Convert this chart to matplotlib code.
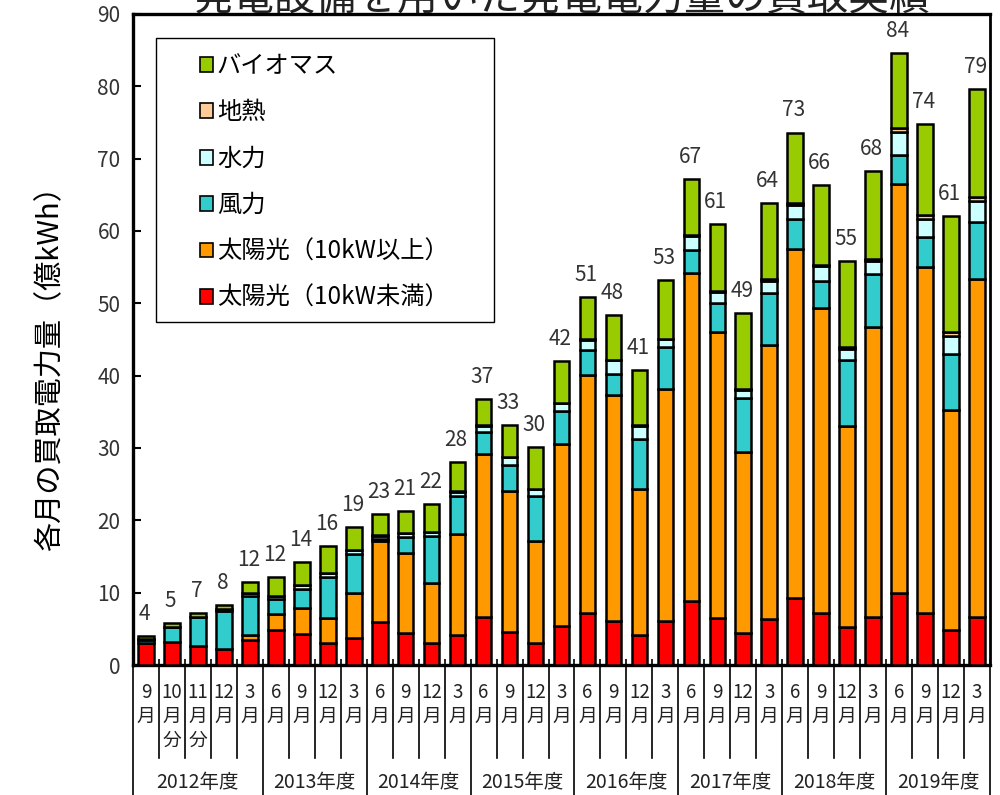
import matplotlib
matplotlib.use("Agg")
import matplotlib.pyplot as plt
import matplotlib.transforms as mtransforms
from matplotlib.patches import Patch, Rectangle
import numpy as np

plt.rcParams['font.family'] = ['Noto Sans CJK JP', 'DejaVu Sans']

# ── data (億kWh) ─────────────────────────────────────────────────
month_num = ['9', '10', '11', '12', '3',
             '6', '9', '12', '3', '6', '9', '12', '3', '6', '9', '12', '3',
             '6', '9', '12', '3', '6', '9', '12', '3', '6', '9', '12', '3',
             '6', '9', '12', '3']
month_note = ['', '分', '分', '', ''] + [''] * 28
years = ['2012年度', '2013年度', '2014年度', '2015年度',
         '2016年度', '2017年度', '2018年度', '2019年度']
year_counts = [5, 4, 4, 4, 4, 4, 4, 4]

solar_small = [3.1, 3.2, 2.6, 2.2, 3.5, 4.8, 4.25, 3.0, 3.8,
               5.9, 4.4, 3.0, 4.15, 6.7, 4.6, 3.0, 5.4,
               7.15, 6.1, 4.15, 6.1, 8.9, 6.55, 4.4, 6.3,
               9.2, 7.2, 5.2, 6.6, 10.0, 7.2, 4.8, 6.6]
solar_large = [0, 0, 0, 0, 0.6, 2.2, 3.6, 3.45, 6.1,
               11.3, 11.1, 8.4, 14.0, 22.5, 19.4, 14.2, 25.1,
               33.0, 31.2, 20.15, 32.1, 45.35, 39.45, 25.1, 38.0,
               48.3, 42.2, 27.8, 40.1, 56.45, 47.8, 30.5, 46.8]
wind = [0.4, 2.0, 4.0, 5.3, 5.4, 2.1, 2.6, 5.75, 5.5,
        0.2, 2.2, 6.5, 5.2, 3.0, 3.7, 6.1, 4.6,
        3.4, 2.9, 7.0, 5.7, 3.05, 4.0, 7.4, 7.1,
        4.1, 3.7, 9.1, 7.4, 4.05, 4.2, 7.7, 7.8]
hydro = [0.1, 0.1, 0.1, 0.2, 0.4, 0.5, 0.6, 0.5, 0.5,
         0.5, 0.5, 0.5, 0.6, 0.9, 1.0, 1.0, 1.1,
         1.4, 1.9, 1.8, 1.1, 2.0, 1.5, 1.1, 1.7,
         2.0, 2.0, 1.6, 1.8, 3.2, 2.5, 2.5, 3.0]
geothermal = [0, 0, 0, 0, 0, 0, 0, 0, 0,
              0.05, 0.05, 0.05, 0.05, 0.05, 0.05, 0.05, 0.05,
              0.05, 0.05, 0.05, 0.05, 0.2, 0.2, 0.2, 0.2,
              0.2, 0.2, 0.2, 0.2, 0.5, 0.5, 0.5, 0.5]
biomass = [0.4, 0.5, 0.5, 0.6, 1.6, 2.6, 3.15, 3.7, 3.2,
           2.95, 3.05, 3.75, 4.0, 3.65, 4.45, 5.8, 5.75,
           5.9, 6.25, 7.65, 8.15, 7.7, 9.2, 10.5, 10.6,
           9.8, 11.0, 11.9, 12.2, 10.4, 12.6, 16.0, 14.9]
total_labels = [4, 5, 7, 8, 12, 12, 14, 16, 19, 23, 21, 22, 28, 37, 33, 30, 42,
                51, 48, 41, 53, 67, 61, 49, 64, 73, 66, 55, 68, 84, 74, 61, 79]

series = [
    ('太陽光（10kW未満）', solar_small, '#FF0000'),
    ('太陽光（10kW以上）', solar_large, '#FF9900'),
    ('風力', wind, '#33CCCC'),
    ('水力', hydro, '#CCFFFF'),
    ('地熱', geothermal, '#FFCC99'),
    ('バイオマス', biomass, '#99CC00'),
]

# ── figure ───────────────────────────────────────────────────────
fig = plt.figure(figsize=(10, 7.95), dpi=100)
ax = fig.add_axes([0.133, 0.1635, 0.857, 0.8190])

x = np.arange(len(month_num))
bottom = np.zeros(len(x))
for name, vals, col in series:
    vals = np.array(vals, dtype=float)
    ax.bar(x, vals, width=0.6, bottom=bottom, color=col,
           edgecolor='black', linewidth=1.8, zorder=3)
    bottom += vals

for xi, top, lab in zip(x, bottom, total_labels):
    ax.annotate(str(lab), (xi, top), xytext=(-1, 8), textcoords='offset points',
                ha='center', va='bottom', fontsize=15, color='#333333')

ax.set_xlim(-0.5, len(x) - 0.5)
ax.set_ylim(0, 90)
ax.set_yticks(np.arange(0, 91, 10))
ax.tick_params(axis='y', direction='in', length=6, width=1.5, labelsize=15,
               labelcolor='#333333', pad=9)
ax.set_xticks(np.arange(-0.5, len(x), 1.0))
ax.tick_params(axis='x', direction='in', length=4, width=1.2, labelbottom=False)
for side in ['top', 'left', 'bottom']:
    ax.spines[side].set_linewidth(2.4)
ax.spines['right'].set_linewidth(2.0)

ax.set_ylabel('各月の買取電力量（億kWh）', fontsize=21)
ax.yaxis.set_label_coords(-0.079, 0.467)

# ── category table under the axis ────────────────────────────────
trans = mtransforms.blended_transform_factory(ax.transData, ax.transAxes)
year_edges = np.cumsum([0] + year_counts) - 0.5
for b in np.arange(-0.5, len(x), 1.0):
    full = np.any(np.isclose(b, year_edges))
    ax.plot([b, b], [0, -0.2 if full else -0.143], transform=trans,
            color='black', lw=1.2, clip_on=False)

for xi, num, note in zip(x, month_num, month_note):
    ax.text(xi, -0.042, num, transform=trans, ha='center', va='center',
            fontsize=13.5, color='#222222')
    ax.text(xi, -0.079, '月', transform=trans, ha='center', va='center',
            fontsize=13.5, color='#222222')
    if note:
        ax.text(xi, -0.116, note, transform=trans, ha='center', va='center',
                fontsize=13.5, color='#222222')

for i, yl in enumerate(years):
    xc = (year_edges[i] + year_edges[i + 1]) / 2
    ax.text(xc, -0.181, yl, transform=trans, ha='center', va='center',
            fontsize=14, color='#222222')

# ── legend ───────────────────────────────────────────────────────
ax.add_patch(Rectangle((0.0268, 0.527), 0.3944, 0.436, transform=ax.transAxes,
                       facecolor='white', edgecolor='black', linewidth=1.0,
                       zorder=4))
handles = [Patch(facecolor=c, edgecolor='black', linewidth=1.2) for _, _, c in series][::-1]
labels = [n for n, _, _ in series][::-1]
leg = ax.legend(handles, labels, loc='upper left', bbox_to_anchor=(0.078, 0.94),
                frameon=False, fontsize=17.5, handlelength=0.55, handleheight=0.55,
                handletextpad=0.15, labelspacing=0.84, borderpad=0, borderaxespad=0)
leg.set_zorder(5)

# title (cut off by the top of the image, as in the source)
fig.text(0.562, 1 - 10 / 795, '発電設備を用いた発電電力量の買取実績', ha='center',
         va='baseline', fontsize=29.5, color='#222222')

fig.savefig('out.png', dpi=100)
